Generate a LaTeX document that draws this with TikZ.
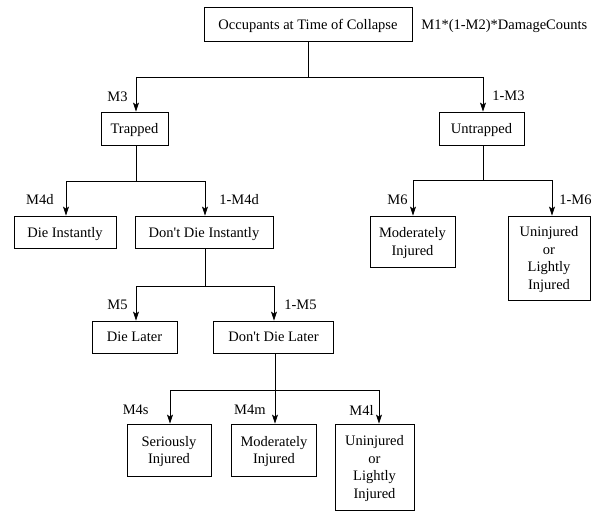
\documentclass[tikz,border=0pt]{standalone}
\usepackage{fontspec}
\setmainfont{Liberation Serif}
\usetikzlibrary{arrows.meta}

\begin{document}
\begin{tikzpicture}
  [x=1pt,y=-1pt,line width=0.8pt,
   every node/.style={font=\fontsize{14.5}{17.5}\selectfont},
   box/.style={draw,inner sep=0pt,align=center,text depth=0pt},
   lbl/.style={inner sep=0pt},
   arr/.style={-{Stealth[length=9pt,width=6pt,inset=2pt]}}]
  \useasboundingbox (0,0) rectangle (592,511);
  % boxes
  \node[box,minimum width=208pt,minimum height=34pt] (occ) at (308,24) {Occupants at Time of Collapse};
  \node[box,minimum width=67pt,minimum height=33pt] (trap) at (134.5,128.5) {Trapped};
  \node[box,minimum width=85pt,minimum height=33pt] (untrap) at (481.5,128.5) {Untrapped};
  \node[box,minimum width=102pt,minimum height=32pt] (dinst) at (65,232) {Die Instantly};
  \node[box,minimum width=138pt,minimum height=32pt] (ndinst) at (204,232) {Don\textquotesingle t Die Instantly};
  \node[box,minimum width=85pt,minimum height=51pt] (modu) at (412.5,241.5) {Moderately\\Injured};
  \node[box,minimum width=82pt,minimum height=84pt] (uninu) at (549,258) {Uninjured\\or\\Lightly\\Injured};
  \node[box,minimum width=85pt,minimum height=32pt] (dlater) at (134.5,337) {Die Later};
  \node[box,minimum width=120pt,minimum height=32pt] (ndlater) at (273.5,337) {Don\textquotesingle t Die Later};
  \node[box,minimum width=84pt,minimum height=52pt] (serinj) at (169,450) {Seriously\\Injured};
  \node[box,minimum width=85pt,minimum height=52pt] (modt) at (274,450) {Moderately\\Injured};
  \node[box,minimum width=79pt,minimum height=86pt] (unint) at (374.5,467) {Uninjured\\or\\Lightly\\Injured};
  % labels
  \node[lbl,anchor=west] (lcnt) at (421,26) {M1*(1-M2)*DamageCounts};
  \node[lbl,anchor=east] (lm3) at (128,97) {M3};
  \node[lbl,anchor=west] (lnm3) at (492,96) {1-M3};
  \node[lbl,anchor=east] (lm4d) at (54,200) {M4d};
  \node[lbl,anchor=west] (lnm4d) at (219,200) {1-M4d};
  \node[lbl,anchor=east] (lm6) at (408,200) {M6};
  \node[lbl,anchor=west] (lnm6) at (559,200) {1-M6};
  \node[lbl,anchor=east] (lm5) at (128,305) {M5};
  \node[lbl,anchor=west] (lnm5) at (284,305) {1-M5};
  \node[lbl,anchor=east] (lm4s) at (149,410) {M4s};
  \node[lbl,anchor=east] (lm4m) at (266,410) {M4m};
  \node[lbl,anchor=east] (lm4l) at (374,410) {M4l};
  % junctions
  \coordinate (j1) at (308,77);  \coordinate (j1l) at (136,77);  \coordinate (j1r) at (483,77);
  \coordinate (j2) at (136,181); \coordinate (j2l) at (66,181);  \coordinate (j2r) at (205,181);
  \coordinate (j3) at (483,180); \coordinate (j3l) at (413,180); \coordinate (j3r) at (552,180);
  \coordinate (j4) at (205,286); \coordinate (j4l) at (136,286); \coordinate (j4r) at (274,286);
  \coordinate (j5) at (275,390); \coordinate (j5l) at (170,390); \coordinate (j5r) at (379,390);
  \foreach \j/\from in {j1/occ,j2/trap,j3/untrap,j4/ndinst,j5/ndlater}
    \draw (\j |- \from.south) -- (\j) (\j l) -- (\j r);
  \foreach \c/\to in {j1l/trap,j1r/untrap,j2l/dinst,j2r/ndinst,j3l/modu,j3r/uninu,j4l/dlater,j4r/ndlater,j5l/serinj,j5/modt,j5r/unint}
    \draw[arr] (\c) -- (\c |- \to.north);
\end{tikzpicture}
\end{document}
